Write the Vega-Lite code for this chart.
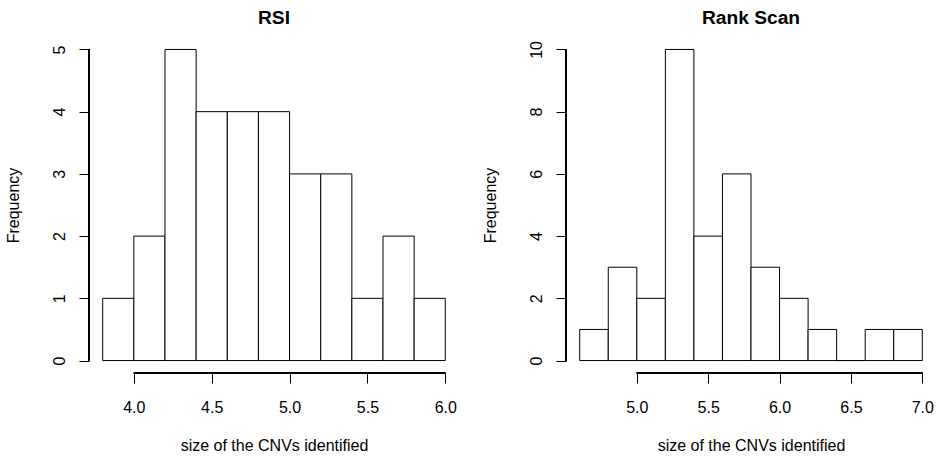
{
  "$schema": "https://vega.github.io/schema/vega-lite/v6.json",
  "background": "white",
  "padding": {"left": 5, "top": 8, "right": 0, "bottom": 0},
  "spacing": 107,
  "bounds": "flush",
  "config": {
    "view": {"stroke": null},
    "font": "Liberation Sans",
    "axis": {
      "domain": false,
      "grid": false,
      "ticks": true,
      "tickSize": 10,
      "tickColor": "black",
      "tickWidth": 1,
      "labelFont": "Liberation Sans",
      "labelFontSize": 16,
      "labelColor": "black",
      "labelFlush": false,
      "labelOverlap": false,
      "titleFont": "Liberation Sans",
      "titleFontSize": 16,
      "titleFontWeight": "normal",
      "titleColor": "black"
    },
    "title": {
      "font": "Liberation Sans",
      "fontSize": 19.2,
      "fontWeight": "bold",
      "color": "black",
      "anchor": "middle",
      "frame": "group",
      "baseline": "alphabetic",
      "offset": 9.3
    }
  },
  "hconcat": [
    {
      "width": 370,
      "height": 336,
      "title": "RSI",
      "data": {"values": [
        {"bin_start": 3.8, "bin_end": 4.0, "count": 1},
        {"bin_start": 4.0, "bin_end": 4.2, "count": 2},
        {"bin_start": 4.2, "bin_end": 4.4, "count": 5},
        {"bin_start": 4.4, "bin_end": 4.6, "count": 4},
        {"bin_start": 4.6, "bin_end": 4.8, "count": 4},
        {"bin_start": 4.8, "bin_end": 5.0, "count": 4},
        {"bin_start": 5.0, "bin_end": 5.2, "count": 3},
        {"bin_start": 5.2, "bin_end": 5.4, "count": 3},
        {"bin_start": 5.4, "bin_end": 5.6, "count": 1},
        {"bin_start": 5.6, "bin_end": 5.8, "count": 2},
        {"bin_start": 5.8, "bin_end": 6.0, "count": 1}
      ]},
      "layer": [
        {
          "mark": {"type": "bar", "fill": "white", "stroke": "black", "strokeWidth": 1},
          "encoding": {
            "x": {"field": "bin_start", "type": "quantitative",
              "scale": {"domain": [3.712, 6.088], "nice": false, "zero": false},
              "axis": {"title": "size of the CNVs identified", "values": [4, 4.5, 5, 5.5, 6], "format": ".1f",
                "labelBaseline": "alphabetic", "labelPadding": 29.3,
                "titleBaseline": "alphabetic", "titleAlign": "center", "titleX": 185, "titleY": 77.7}},
            "x2": {"field": "bin_end"},
            "y": {"field": "count", "type": "quantitative",
              "scale": {"domain": [-0.2, 5.2], "nice": false, "zero": false},
              "axis": {"title": "Frequency", "values": [0, 1, 2, 3, 4, 5], "format": "d",
                "labelAngle": -90, "labelAlign": "center", "labelBaseline": "alphabetic", "labelPadding": 15,
                "titleAngle": -90, "titleBaseline": "alphabetic", "titleAlign": "center", "titleX": -71, "titleY": 168}},
            "y2": {"datum": 0}
          }
        },
        {
          "mark": {"type": "rule", "color": "black", "strokeWidth": 1},
          "encoding": {
            "x": {"datum": 4.0, "type": "quantitative"},
            "x2": {"datum": 6.0},
            "y": {"datum": -0.2, "type": "quantitative"}
          }
        },
        {
          "mark": {"type": "rule", "color": "black", "strokeWidth": 1},
          "encoding": {
            "x": {"datum": 3.712, "type": "quantitative"},
            "y": {"datum": 0, "type": "quantitative"},
            "y2": {"datum": 5}
          }
        }
      ]
    },
    {
      "width": 370,
      "height": 336,
      "title": "Rank Scan",
      "data": {"values": [
        {"bin_start": 4.6, "bin_end": 4.8, "count": 1},
        {"bin_start": 4.8, "bin_end": 5.0, "count": 3},
        {"bin_start": 5.0, "bin_end": 5.2, "count": 2},
        {"bin_start": 5.2, "bin_end": 5.4, "count": 10},
        {"bin_start": 5.4, "bin_end": 5.6, "count": 4},
        {"bin_start": 5.6, "bin_end": 5.8, "count": 6},
        {"bin_start": 5.8, "bin_end": 6.0, "count": 3},
        {"bin_start": 6.0, "bin_end": 6.2, "count": 2},
        {"bin_start": 6.2, "bin_end": 6.4, "count": 1},
        {"bin_start": 6.4, "bin_end": 6.6, "count": 0},
        {"bin_start": 6.6, "bin_end": 6.8, "count": 1},
        {"bin_start": 6.8, "bin_end": 7.0, "count": 1}
      ]},
      "layer": [
        {
          "mark": {"type": "bar", "fill": "white", "stroke": "black", "strokeWidth": 1},
          "encoding": {
            "x": {"field": "bin_start", "type": "quantitative",
              "scale": {"domain": [4.504, 7.096], "nice": false, "zero": false},
              "axis": {"title": "size of the CNVs identified", "values": [5, 5.5, 6, 6.5, 7], "format": ".1f",
                "labelBaseline": "alphabetic", "labelPadding": 29.3,
                "titleBaseline": "alphabetic", "titleAlign": "center", "titleX": 185, "titleY": 77.7}},
            "x2": {"field": "bin_end"},
            "y": {"field": "count", "type": "quantitative",
              "scale": {"domain": [-0.4, 10.4], "nice": false, "zero": false},
              "axis": {"title": "Frequency", "values": [0, 2, 4, 6, 8, 10], "format": "d",
                "labelAngle": -90, "labelAlign": "center", "labelBaseline": "alphabetic", "labelPadding": 15,
                "titleAngle": -90, "titleBaseline": "alphabetic", "titleAlign": "center", "titleX": -71, "titleY": 168}},
            "y2": {"datum": 0}
          }
        },
        {
          "mark": {"type": "rule", "color": "black", "strokeWidth": 1},
          "encoding": {
            "x": {"datum": 5.0, "type": "quantitative"},
            "x2": {"datum": 7.0},
            "y": {"datum": -0.4, "type": "quantitative"}
          }
        },
        {
          "mark": {"type": "rule", "color": "black", "strokeWidth": 1},
          "encoding": {
            "x": {"datum": 4.504, "type": "quantitative"},
            "y": {"datum": 0, "type": "quantitative"},
            "y2": {"datum": 10}
          }
        }
      ]
    }
  ]
}
